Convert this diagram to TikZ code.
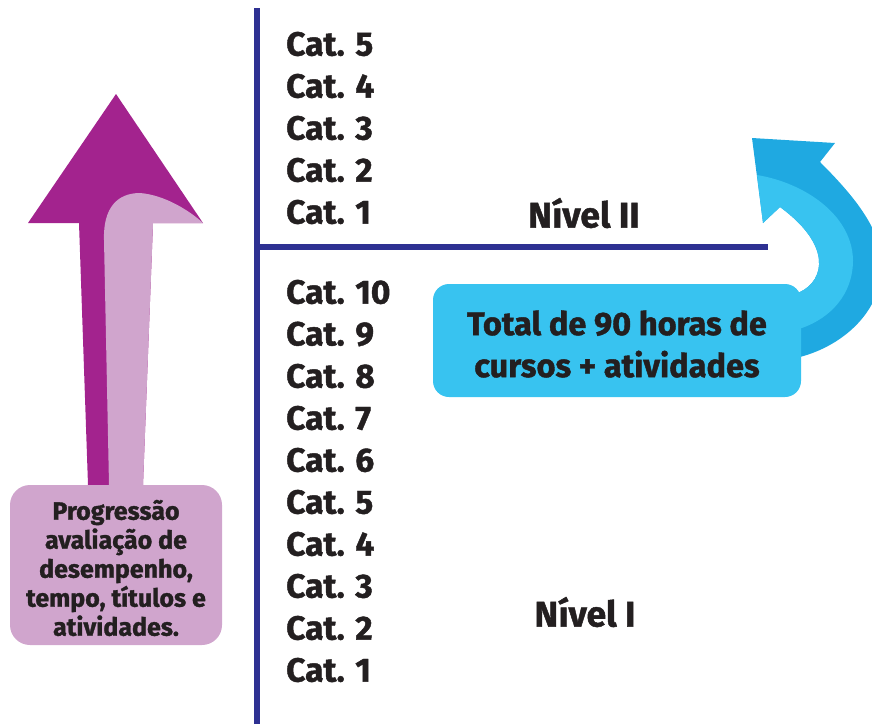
\documentclass[tikz,border=0pt]{standalone}
\usepackage{fontspec}
\setmainfont{Fira Sans}[BoldFeatures={FakeBold=1.3}]
\definecolor{navy}{HTML}{2E3192}
\definecolor{txt}{HTML}{231F20}
\definecolor{purp}{HTML}{A3238E}
\definecolor{lpurp}{HTML}{D0A5CD}
\definecolor{dblue}{HTML}{1FA9E1}
\definecolor{lblue}{HTML}{38C3F0}
\tikzset{
  cat/.style={anchor=west,inner sep=0pt,text=txt,font=\fontsize{33.5}{36}\selectfont\bfseries},
  level/.style={inner sep=0pt,text=txt,font=\fontsize{35.5}{38}\selectfont\bfseries},
  rule/.style={draw=navy,line width=5.5pt},
}
\begin{document}
\begin{tikzpicture}[x=1pt,y=-1pt]
\useasboundingbox (0,0) rectangle (872,724);
\begin{scope}
\clip (0,0) rectangle (872,724);
% purple arrow
\fill[purp] (116,94) -- (203,223) -- (153,223) -- (143,485) -- (88,485) -- (79,223) -- (28,223) -- cycle;
\fill[lpurp] (203,223) -- (153,223) -- (143,485) -- (109,485) -- (104,240)
   .. controls (103,207) and (118,193) .. (140,193)
   .. controls (165,195) and (190,211) .. (203,223) -- cycle;
% blue curved arrow
\fill[dblue] (752,138) -- (835,143) -- (820,162)
   .. controls (850,192) and (882,228) .. (882,265)
   .. controls (882,310) and (845,345) .. (800,357)
   -- (790,357) -- (790,292) -- (800,292)
   .. controls (825,280) and (832,245) .. (780,207)
   -- (763,223) -- cycle;
\fill[lblue] (757,175) .. controls (805,183) and (852,215) .. (853,260)
   .. controls (853,295) and (830,318) .. (802,328)
   -- (790,328) -- (790,292) -- (800,292)
   .. controls (825,280) and (832,245) .. (780,207)
   -- (763,223) -- cycle;
\end{scope}
% rules
\coordinate (vtop) at (257,8);
\coordinate (vbot) at (257,724);
\coordinate (hl) at (257,247);
\coordinate (hr) at (768,247);
\draw[rule] (vtop) -- (vbot);
\draw[rule] (hl) -- (hr);
% boxes
\node[fill=lpurp,rounded corners=20pt,minimum width=212pt,minimum height=160pt,inner sep=0pt] (pbox) at (116,565) {};
\node[align=center,text=txt,font=\fontsize{25}{29}\selectfont\bfseries,inner sep=0pt] (ptext) at (116,568)
  {Progressão\\avaliação de\\desempenho,\\tempo, títulos e\\atividades.};
\node[fill=lblue,rounded corners=16pt,minimum width=368pt,minimum height=113pt,inner sep=0pt] (bbox) at (617,340.5) {};
\node[align=center,text=txt,font=\fontsize{32.5}{42}\selectfont\bfseries,inner sep=0pt] (btext) at (617,344)
  {Total de 90 horas de\\cursos + atividades};
% categories
\foreach \n [count=\i from 0] in {5,4,3,2,1}
  \node[cat] (u\n) at (286,{44+42*\i}) {Cat. \n};
\foreach \n [count=\i from 0] in {10,9,8,7,6,5,4,3,2,1}
  \node[cat] (l\n) at (286,{292+42*\i}) {Cat. \n};
\node[level] (n2) at (584,213) {Nível II};
\node[level] (n1) at (585,612) {Nível I};
\end{tikzpicture}
\end{document}
